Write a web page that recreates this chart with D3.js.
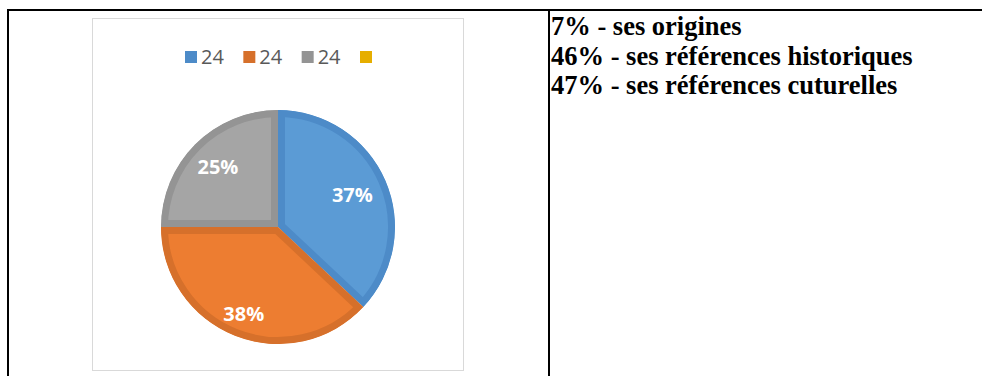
<!DOCTYPE html>
<html>
<head>
<meta charset="utf-8">
<script src="https://cdn.jsdelivr.net/npm/d3@7"></script>
<style>
  html, body { margin: 0; padding: 0; background: #fff; }
  svg { display: block; }
</style>
</head>
<body>
<svg id="chart" width="982" height="376"></svg>
<script>
// Series data
const categories = ["24", "24", "24", ""];
const values = [37, 38, 25, 0];
const percentLabels = ["37%", "38%", "25%", ""];

// Side notes
const notes = [
  "7% - ses origines",
  "46% - ses références historiques",
  "47% - ses références cuturelles"
];

// Styling
const fills   = ["#5b9bd5", "#ed7d31", "#a5a5a5", "#ffc000"];
const borders = ["#4d8bc8", "#d6702b", "#949494", "#e6ae00"];
const labelRadius = [81, 93, 85, 80];

const svg = d3.select("#chart");

// Table frame
const frame = svg.append("g").attr("stroke", "#000").attr("stroke-width", 2);
frame.append("line").attr("x1", 7).attr("x2", 982).attr("y1", 10).attr("y2", 10);
frame.append("line").attr("x1", 8).attr("x2", 8).attr("y1", 9).attr("y2", 376);
frame.append("line").attr("x1", 549).attr("x2", 549).attr("y1", 9).attr("y2", 376);

// Chart area box
svg.append("rect")
  .attr("x", 92.5).attr("y", 18.5)
  .attr("width", 371).attr("height", 352)
  .attr("fill", "#fff").attr("stroke", "#d9d9d9").attr("stroke-width", 1);

// Legend
const legendX = d3.scalePoint().domain(d3.range(categories.length)).range([185, 360]);
const legend = svg.append("g");
categories.forEach((c, i) => {
  const g = legend.append("g").attr("transform", `translate(${legendX(i)},51)`);
  g.append("rect").attr("width", 12).attr("height", 12).attr("fill", borders[i]);
  if (c) {
    g.append("text")
      .attr("x", 16).attr("y", 13)
      .attr("font-family", "'Open Sans', sans-serif")
      .attr("font-size", 20)
      .attr("fill", "#595959")
      .text(c);
  }
});

// Pie
const cx = 278, cy = 227, R = 117;
const pie = d3.pie().sort(null).value(d => d)(values);
const arc = d3.arc().innerRadius(0).outerRadius(R);
const pieG = svg.append("g").attr("transform", `translate(${cx},${cy})`);
const defs = svg.append("defs");

pie.forEach((p, i) => {
  if (p.value <= 0) return;
  const id = "clip" + i;
  defs.append("clipPath").attr("id", id).append("path").attr("d", arc(p));
  pieG.append("path")
    .attr("d", arc(p))
    .attr("fill", fills[i])
    .attr("stroke", borders[i])
    .attr("stroke-width", 14)
    .attr("stroke-linejoin", "miter")
    .attr("clip-path", `url(#${id})`);
});

// Percent labels
pie.forEach((p, i) => {
  if (p.value <= 0) return;
  const c = d3.arc().innerRadius(labelRadius[i]).outerRadius(labelRadius[i]).centroid(p);
  pieG.append("text")
    .attr("x", c[0]).attr("y", c[1])
    .attr("text-anchor", "middle")
    .attr("dominant-baseline", "central")
    .attr("font-family", "'Open Sans', sans-serif")
    .attr("font-weight", "bold")
    .attr("font-size", 20)
    .attr("fill", "#fff")
    .text(percentLabels[i]);
});

// Notes column
svg.append("g").selectAll("text")
  .data(notes)
  .join("text")
  .attr("x", 551)
  .attr("y", (d, i) => 35 + i * 29.5)
  .attr("font-family", "'Liberation Serif', 'Times New Roman', serif")
  .attr("font-weight", "bold")
  .attr("font-size", 26.5)
  .attr("fill", "#000")
  .text(d => d);
</script>
</body>
</html>
